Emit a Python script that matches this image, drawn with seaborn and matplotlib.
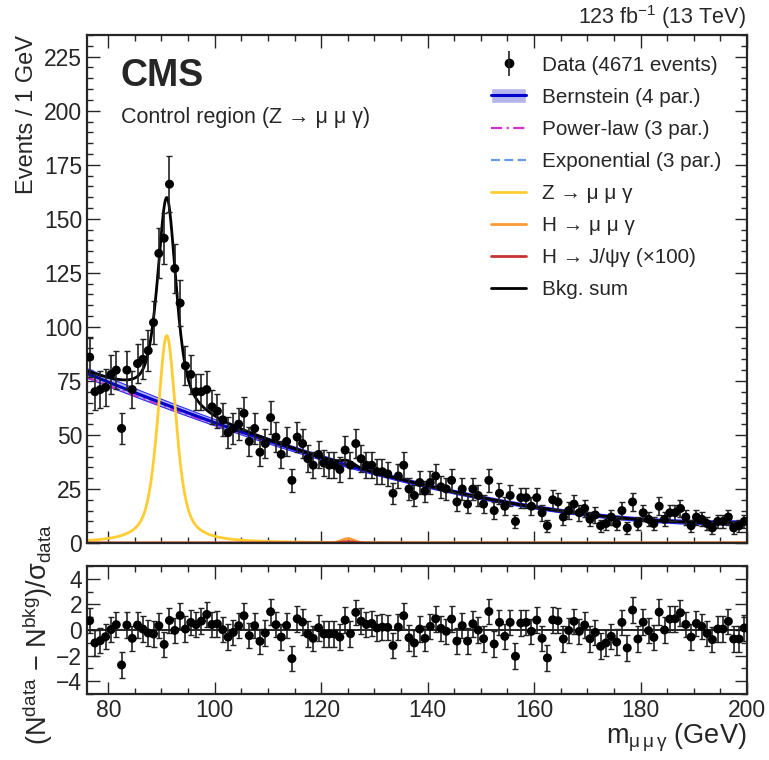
import numpy as np
import pandas as pd
import matplotlib
matplotlib.use("Agg")
import matplotlib.pyplot as plt
import seaborn as sns
from matplotlib.lines import Line2D
from matplotlib.patches import Patch
from matplotlib.legend_handler import HandlerTuple
from matplotlib.ticker import MultipleLocator

# 1 GeV bins, 76 - 200 GeV
m_lo, m_hi = 76, 200

# events per bin
counts = [86, 70, 71, 72, 78, 80, 53, 80, 71, 83,
          85, 89, 102, 134, 141, 166, 127, 111, 82, 78,
          70, 70, 71, 63, 61, 57, 51, 53, 55, 60,
          47, 53, 42, 46, 58, 49, 41, 47, 29, 49,
          46, 39, 36, 41, 37, 36, 36, 34, 43, 36,
          46, 39, 36, 36, 33, 33, 32, 23, 31, 36,
          25, 22, 28, 24, 28, 31, 26, 25, 29, 19,
          25, 18, 25, 22, 18, 29, 15, 23, 17, 22,
          10, 21, 21, 17, 21, 14, 8, 20, 19, 12,
          15, 18, 14, 16, 11, 13, 8, 9, 12, 9,
          15, 7, 19, 9, 14, 11, 9, 17, 11, 14,
          14, 16, 12, 8, 12, 11, 9, 7, 10, 10,
          12, 7, 8, 10]

# pulls
pulls = [0.73, -1.01, -0.83, -0.52, 0.03, 0.42, -2.73, 0.39, -0.65, 0.39,
         0.08, -0.23, -0.31, 0.34, -1.12, 0.75, -0.03, 1.14, 0.08, 0.60,
         0.42, 0.70, 1.22, 0.44, 0.49, 0.03, -0.55, -0.18, 0.34, 1.12,
         -0.44, 0.34, -0.88, -0.23, 1.43, 0.42, -0.55, 0.36, -2.23, 0.88,
         0.62, -0.31, -0.65, 0.18, -0.31, -0.31, -0.31, -0.55, 0.78, -0.29,
         1.38, 0.70, 0.44, 0.52, 0.16, 0.23, 0.21, -1.22, 0.23, 1.12,
         -0.60, -1.01, 0.08, -0.65, 0.29, 0.88, 0.13, -0.10, 0.86, -0.86,
         0.34, -0.86, 0.49, 0.00, -0.68, 1.45, -1.09, 0.60, -0.49, 0.60,
         -2.05, 0.55, 0.60, -0.10, 0.78, -0.65, -2.18, 0.80, 0.73, -0.70,
         -0.03, 0.68, -0.10, 0.39, -0.68, -0.18, -1.27, -1.01, -0.49, -0.94,
         0.60, -1.40, 1.56, -0.70, 0.62, -0.05, -0.57, 1.40, 0.00, 0.86,
         0.88, 1.35, 0.44, -0.55, 0.52, 0.29, -0.26, -0.75, 0.08, 0.08,
         0.68, -0.70, -0.70, 0.16]

# fitted shapes, coefficients
bern_coef = [78.5, 36.5, 7.5, 9.4]
bern_err_coef = [2.2, 0.7, 0.6, 1.0]
powlaw_coef = [76.6, 37.6, 6.8, 9.7]
expo_coef = [78.0, 36.9, 7.1, 9.5]
z_mass, z_fwhm, z_eta, z_peak = 91.0, 4.15, 0.65, 96.0
h_mass, h_sigma, h_peak = 125.0, 1.2, 2.0
jpsi_mass, jpsi_sigma, jpsi_peak = 125.0, 1.2, 0.6


def smooth(m, c):
    t = (m - m_lo) / (m_hi - m_lo)
    return (c[0] * (1 - t) ** 3 + 3 * c[1] * t * (1 - t) ** 2
            + 3 * c[2] * t ** 2 * (1 - t) + c[3] * t ** 3)


def zpeak(m):
    d = (m - z_mass) / (z_fwhm / 2)
    return z_peak * (z_eta / (1 + d ** 2) + (1 - z_eta) * np.exp(-np.log(2) * d ** 2))


def gaus(m, mu, s, h):
    return h * np.exp(-0.5 * ((m - mu) / s) ** 2)


centers = np.arange(m_lo, m_hi) + 0.5
df = pd.DataFrame({"m": centers, "n": counts, "pull": pulls})
df["err"] = np.sqrt(df["n"])

sns.set_theme(style="ticks")
plt.rcParams["font.family"] = ["Liberation Sans", "DejaVu Sans"]
plt.rcParams["mathtext.fontset"] = "custom"
plt.rcParams["mathtext.rm"] = "Liberation Sans"
plt.rcParams["mathtext.it"] = "Liberation Sans:italic"

fig = plt.figure(figsize=(7.69, 7.60), dpi=100)
ax = fig.add_axes([0.1131, 0.2855, 0.8583, 0.6684])
rax = fig.add_axes([0.1131, 0.0868, 0.8583, 0.1684])

mf = np.linspace(m_lo, m_hi, 1000)
bkg = smooth(mf, bern_coef)
berr = smooth(mf, bern_err_coef)
c_band, c_bern = "#b4b4ec", "#0000cc"
c_pow, c_exp = "#cc33cc", "#6699ee"
c_z, c_h, c_j = "#ffcc33", "#ff9933", "#c83232"
ls_pow, ls_exp = (0, (5, 2, 1, 2)), (0, (4, 2))

ax.fill_between(mf, bkg - berr, bkg + berr, color=c_band, lw=0)
ax.plot(mf, bkg + berr, color="#2b2bff", lw=0.8)
ax.plot(mf, bkg - berr, color="#2b2bff", lw=0.8)
sns.lineplot(x=mf, y=smooth(mf, powlaw_coef), ax=ax, color=c_pow, lw=1.6, ls=ls_pow)
sns.lineplot(x=mf, y=smooth(mf, expo_coef), ax=ax, color=c_exp, lw=1.6, ls=ls_exp)
sns.lineplot(x=mf, y=bkg, ax=ax, color=c_bern, lw=2.2)
sns.lineplot(x=mf, y=zpeak(mf), ax=ax, color=c_z, lw=2.0)
sns.lineplot(x=mf, y=gaus(mf, h_mass, h_sigma, h_peak), ax=ax, color=c_h, lw=2.0)
sns.lineplot(x=mf, y=gaus(mf, jpsi_mass, jpsi_sigma, jpsi_peak), ax=ax, color=c_j, lw=2.0)
tot = bkg + zpeak(mf) + gaus(mf, h_mass, h_sigma, h_peak)
sns.lineplot(x=mf, y=tot, ax=ax, color="black", lw=2.0)

ax.errorbar(df["m"], df["n"], yerr=df["err"], fmt="none", ecolor="#222222",
            elinewidth=1.2, capsize=2.5, capthick=1)
sns.scatterplot(data=df, x="m", y="n", ax=ax, color="black", s=42, edgecolor="none", zorder=5)

rax.axhline(0, color="black", lw=1.2)
rax.errorbar(df["m"], df["pull"], yerr=1, fmt="none", ecolor="#222222",
             elinewidth=1.2, capsize=2.5, capthick=1)
sns.scatterplot(data=df, x="m", y="pull", ax=rax, color="black", s=42, edgecolor="none", zorder=5)

for a in (ax, rax):
    a.set_xlim(m_lo, m_hi)
    a.xaxis.set_major_locator(MultipleLocator(20))
    a.xaxis.set_minor_locator(MultipleLocator(5))
    a.tick_params(which="both", direction="in", top=True, right=True, labelsize=16.5, width=1)
    a.tick_params(which="major", length=9)
    a.tick_params(which="minor", length=4.5)
    for s in a.spines.values():
        s.set_linewidth(1.6)
    a.set_xlabel("")
    a.set_ylabel("")
ax.set_ylim(0, 235)
ax.yaxis.set_major_locator(MultipleLocator(25))
ax.yaxis.set_minor_locator(MultipleLocator(5))
ax.tick_params(labelbottom=False)
rax.set_ylim(-5, 5)
rax.yaxis.set_minor_locator(MultipleLocator(1))
rax.set_yticks([-4, -2, 0, 2, 4])

h_data = (Line2D([], [], color="black", marker="o", ms=6, ls="none"),
          Line2D([], [], color="#222222", marker="|", ms=18, mew=1.2, ls="none"))
h_bern = (Patch(facecolor=c_band), Line2D([], [], color=c_bern, lw=2.2))
handles = [h_data, h_bern,
           Line2D([], [], color=c_pow, lw=1.6, ls=ls_pow),
           Line2D([], [], color=c_exp, lw=1.6, ls=ls_exp),
           Line2D([], [], color=c_z, lw=2.0),
           Line2D([], [], color=c_h, lw=2.0),
           Line2D([], [], color=c_j, lw=2.0),
           Line2D([], [], color="black", lw=2.0)]
labels = ["Data (4671 events)", "Bernstein (4 par.)", "Power-law (3 par.)",
          "Exponential (3 par.)", "Z → μ μ γ", "H → μ μ γ",
          "H → J/ψγ (×100)", "Bkg. sum"]
ax.legend(handles, labels, loc="upper left", bbox_to_anchor=(0.584, 0.996), frameon=False,
          fontsize=14.9, handlelength=1.7, labelspacing=0.63, handletextpad=0.77,
          handler_map={tuple: HandlerTuple(ndivide=1, pad=0)})

fig.text(121 / 769, 1 - 76 / 760, "CMS", fontsize=27, fontweight="bold", va="center", ha="left")
fig.text(121 / 769, 1 - 117 / 760, "Control region (Z → μ μ γ)", fontsize=15.5, va="center", ha="left")
fig.text(746 / 769, 1 - 17 / 760, r"123 fb$^{-1}$ (13 TeV)", fontsize=15.5, va="center", ha="right")
fig.text(27 / 769, 1 - 35 / 760, "Events / 1 GeV", fontsize=17, rotation=90, va="top", ha="center")
fig.text(38 / 769, 1 - 634 / 760,
         r"(N$^{\mathregular{data}}$ − N$^{\mathregular{bkg}}$)/σ$_{\mathregular{data}}$",
         fontsize=19.5, rotation=90, va="center", ha="center")
fig.text(746 / 769, 1 - 738 / 760, r"m$_{\mathregular{μ\,μ\,γ}}$ (GeV)", fontsize=19.5,
         va="center", ha="right")

fig.savefig("out.png", dpi=100)
